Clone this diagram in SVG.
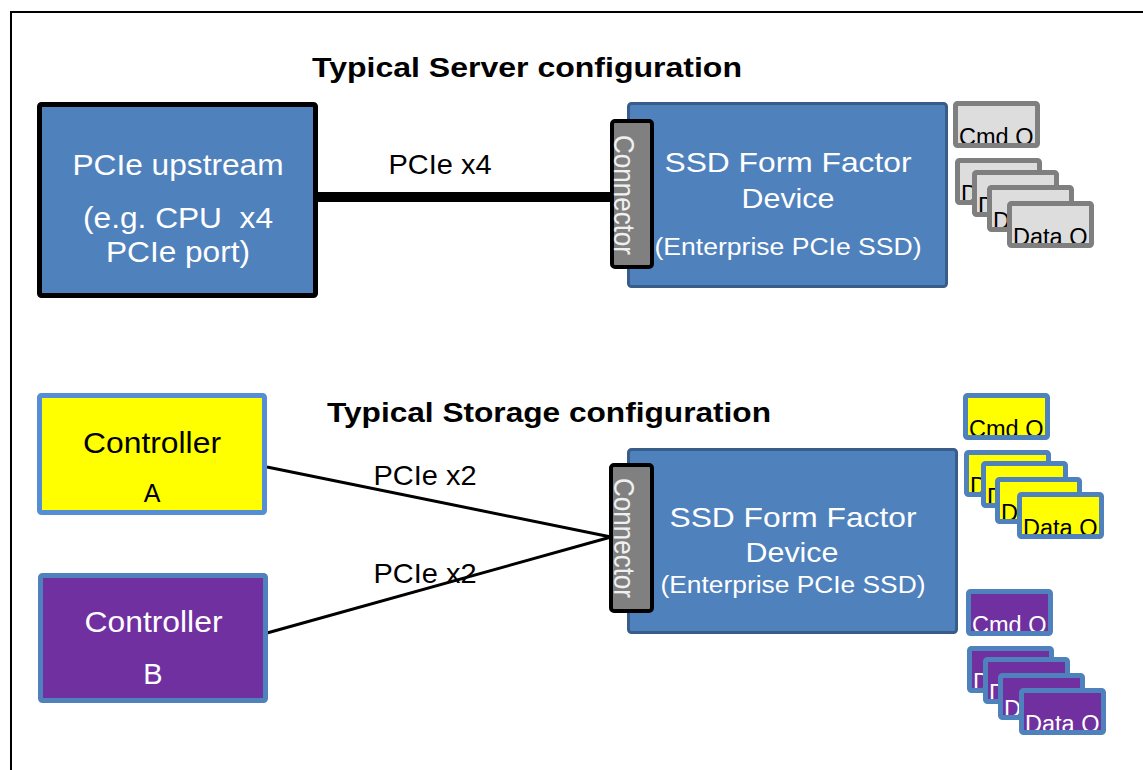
<svg xmlns="http://www.w3.org/2000/svg" width="1143" height="770" viewBox="0 0 1143 770">
<defs>
<clipPath id="qclip" clipPathUnits="userSpaceOnUse"><rect x="4" y="4" width="79" height="39"/></clipPath>
</defs>
<style>
text{font-family:"Liberation Sans",Arial,sans-serif;}
.title{font-size:28px;font-weight:bold;fill:#000;}
.lbl{font-size:28px;fill:#000;}
.wt{fill:#fff;}
.ssd{fill:#4F81BD;stroke:#385D8A;stroke-width:3;}
.conn{fill:#808080;stroke:#000;stroke-width:4;}
.conntxt{font-size:26px;fill:#F0F0F0;}
.qt{font-size:23.5px;clip-path:url(#qclip);}
.qg .f{fill:#DDDDDD;}
.qg .s{fill:none;stroke:#7F7F7F;stroke-width:5;}
.qg text{fill:#000;}
.qy .f{fill:#FFFF00;}
.qy .s{fill:none;stroke:#4F81BD;stroke-width:5;}
.qy text{fill:#000;}
.qp .f{fill:#7030A0;}
.qp .s{fill:none;stroke:#4F81BD;stroke-width:5;}
.qp text{fill:#fff;}
.link{stroke:#000;fill:none;}
</style>
<rect x="0" y="0" width="1143" height="770" fill="#fff"/>
<rect x="11" y="12" width="1200" height="800" fill="none" stroke="#000" stroke-width="2"/>

<text class="title" x="527" y="77" text-anchor="middle" textLength="430" lengthAdjust="spacingAndGlyphs">Typical Server configuration</text>
<text class="title" x="549" y="422" text-anchor="middle" textLength="444" lengthAdjust="spacingAndGlyphs">Typical Storage configuration</text>

<g id="connectors">
<line class="link" x1="318" y1="197" x2="614" y2="197" stroke-width="10"/>
<line class="link" x1="267" y1="467" x2="611" y2="537" stroke-width="3"/>
<line class="link" x1="267" y1="633" x2="611" y2="537" stroke-width="3"/>
<text class="lbl" x="440" y="174" text-anchor="middle" textLength="103" lengthAdjust="spacingAndGlyphs">PCIe x4</text>
<text class="lbl" x="425" y="485" text-anchor="middle" textLength="103" lengthAdjust="spacingAndGlyphs">PCIe x2</text>
<text class="lbl" x="425" y="583" text-anchor="middle" textLength="103" lengthAdjust="spacingAndGlyphs">PCIe x2</text>
</g>

<g id="upstream">
<rect x="39.5" y="104.5" width="276" height="191" rx="2" fill="#4F81BD" stroke="#000" stroke-width="5"/>
<text class="wt" x="178" y="175" font-size="29" text-anchor="middle" textLength="211" lengthAdjust="spacingAndGlyphs">PCIe upstream</text>
<text class="wt" x="178" y="228" font-size="29" text-anchor="middle" textLength="190" lengthAdjust="spacingAndGlyphs" style="white-space:pre">(e.g. CPU  x4</text>
<text class="wt" x="178" y="262" font-size="29" text-anchor="middle" textLength="144" lengthAdjust="spacingAndGlyphs">PCIe port)</text>
</g>

<g id="ssd-server">
<rect class="ssd" x="628.5" y="103.5" width="318" height="183" rx="3"/>
<text class="wt" x="788" y="172" font-size="28" text-anchor="middle" textLength="247" lengthAdjust="spacingAndGlyphs">SSD Form Factor</text>
<text class="wt" x="788" y="208" font-size="28" text-anchor="middle" textLength="93" lengthAdjust="spacingAndGlyphs">Device</text>
<text class="wt" x="788" y="255" font-size="23" text-anchor="middle" textLength="267" lengthAdjust="spacingAndGlyphs">(Enterprise PCIe SSD)</text>
</g>
<g id="connector-server">
<rect class="conn" x="612" y="121" width="40" height="146" rx="3"/>
<text class="conntxt" transform="translate(614,135) scale(1.15,1) rotate(90)" textLength="120" lengthAdjust="spacingAndGlyphs">Connector</text>
</g>

<g id="ssd-storage">
<rect class="ssd" x="628.5" y="449.5" width="328" height="183" rx="3"/>
<text class="wt" x="793" y="527" font-size="28" text-anchor="middle" textLength="247" lengthAdjust="spacingAndGlyphs">SSD Form Factor</text>
<text class="wt" x="792" y="562" font-size="28" text-anchor="middle" textLength="93" lengthAdjust="spacingAndGlyphs">Device</text>
<text class="wt" x="793" y="593" font-size="23" text-anchor="middle" textLength="265" lengthAdjust="spacingAndGlyphs">(Enterprise PCIe SSD)</text>
</g>
<g id="connector-storage">
<rect class="conn" x="611" y="465" width="41" height="146" rx="3"/>
<text class="conntxt" transform="translate(614,478) scale(1.15,1) rotate(90)" textLength="120" lengthAdjust="spacingAndGlyphs">Connector</text>
</g>

<g id="controller-a">
<rect x="39.5" y="395.5" width="225" height="117" rx="2" fill="#FFFF00" stroke="#558ED5" stroke-width="5"/>
<text x="152" y="453" font-size="30" text-anchor="middle" textLength="138" lengthAdjust="spacingAndGlyphs">Controller</text>
<text x="152" y="502" font-size="25" text-anchor="middle">A</text>
</g>
<g id="controller-b">
<rect x="40.5" y="575.5" width="225" height="125" rx="2" fill="#7030A0" stroke="#4F81BD" stroke-width="5"/>
<text class="wt" x="153.5" y="632" font-size="30" text-anchor="middle" textLength="138" lengthAdjust="spacingAndGlyphs">Controller</text>
<text class="wt" x="153" y="684" font-size="29" text-anchor="middle">B</text>
</g>

<g id="queues-server" class="qg">
<g transform="translate(953,101)"><rect class="f" x="2.5" y="2.5" width="82" height="42" rx="2"/><text class="qt" x="6" y="44">Cmd Q</text><rect class="s" x="2.5" y="2.5" width="82" height="42" rx="2"/></g>
<g transform="translate(955,158)"><rect class="f" x="2.5" y="2.5" width="82" height="42" rx="2"/><text class="qt" x="6" y="44">Data Q</text><rect class="s" x="2.5" y="2.5" width="82" height="42" rx="2"/></g>
<g transform="translate(972,170)"><rect class="f" x="2.5" y="2.5" width="82" height="42" rx="2"/><text class="qt" x="6" y="44">Data Q</text><rect class="s" x="2.5" y="2.5" width="82" height="42" rx="2"/></g>
<g transform="translate(987,185)"><rect class="f" x="2.5" y="2.5" width="82" height="42" rx="2"/><text class="qt" x="6" y="44">Data Q</text><rect class="s" x="2.5" y="2.5" width="82" height="42" rx="2"/></g>
<g transform="translate(1007,201)"><rect class="f" x="2.5" y="2.5" width="82" height="42" rx="2"/><text class="qt" x="6" y="44">Data Q</text><rect class="s" x="2.5" y="2.5" width="82" height="42" rx="2"/></g>
</g>

<g id="queues-a" class="qy">
<g transform="translate(963,393)"><rect class="f" x="2.5" y="2.5" width="82" height="42" rx="2"/><text class="qt" x="6" y="44">Cmd Q</text><rect class="s" x="2.5" y="2.5" width="82" height="42" rx="2"/></g>
<g transform="translate(964,450)"><rect class="f" x="2.5" y="2.5" width="82" height="42" rx="2"/><text class="qt" x="6" y="44">Data Q</text><rect class="s" x="2.5" y="2.5" width="82" height="42" rx="2"/></g>
<g transform="translate(981,461)"><rect class="f" x="2.5" y="2.5" width="82" height="42" rx="2"/><text class="qt" x="6" y="44">Data Q</text><rect class="s" x="2.5" y="2.5" width="82" height="42" rx="2"/></g>
<g transform="translate(995,477)"><rect class="f" x="2.5" y="2.5" width="82" height="42" rx="2"/><text class="qt" x="6" y="44">Data Q</text><rect class="s" x="2.5" y="2.5" width="82" height="42" rx="2"/></g>
<g transform="translate(1017,492)"><rect class="f" x="2.5" y="2.5" width="82" height="42" rx="2"/><text class="qt" x="6" y="44">Data Q</text><rect class="s" x="2.5" y="2.5" width="82" height="42" rx="2"/></g>
</g>

<g id="queues-b" class="qp">
<g transform="translate(966,589)"><rect class="f" x="2.5" y="2.5" width="82" height="42" rx="2"/><text class="qt" x="6" y="44">Cmd Q</text><rect class="s" x="2.5" y="2.5" width="82" height="42" rx="2"/></g>
<g transform="translate(967,646)"><rect class="f" x="2.5" y="2.5" width="82" height="42" rx="2"/><text class="qt" x="6" y="44">Data Q</text><rect class="s" x="2.5" y="2.5" width="82" height="42" rx="2"/></g>
<g transform="translate(983,657)"><rect class="f" x="2.5" y="2.5" width="82" height="42" rx="2"/><text class="qt" x="6" y="44">Data Q</text><rect class="s" x="2.5" y="2.5" width="82" height="42" rx="2"/></g>
<g transform="translate(998,673)"><rect class="f" x="2.5" y="2.5" width="82" height="42" rx="2"/><text class="qt" x="6" y="44">Data Q</text><rect class="s" x="2.5" y="2.5" width="82" height="42" rx="2"/></g>
<g transform="translate(1019,688)"><rect class="f" x="2.5" y="2.5" width="82" height="42" rx="2"/><text class="qt" x="6" y="44">Data Q</text><rect class="s" x="2.5" y="2.5" width="82" height="42" rx="2"/></g>
</g>
</svg>
